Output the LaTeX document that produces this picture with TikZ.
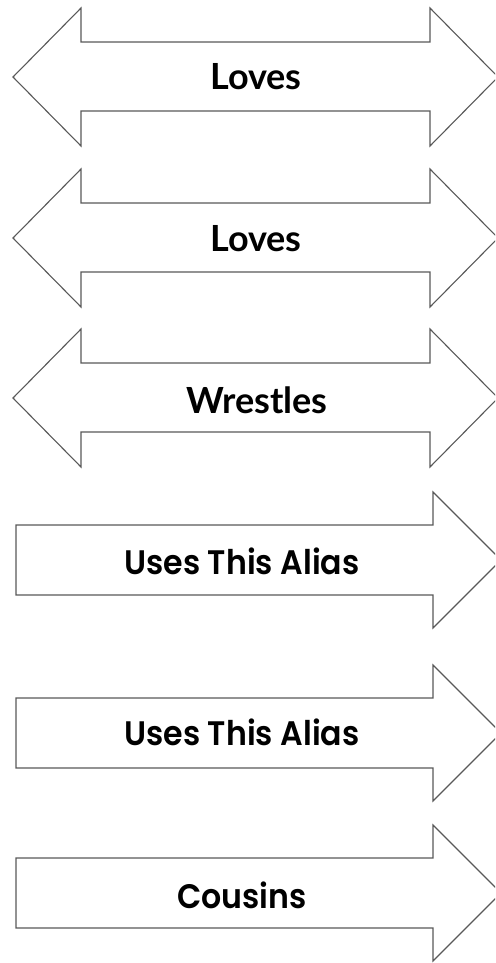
\documentclass[tikz,border=0pt]{standalone}
\usepackage{fontspec}
\newfontfamily\latofont{Lato}[UprightFont=* Bold]
\newfontfamily\popfont{Poppins}[UprightFont=* SemiBold, FakeStretch=0.93]
\begin{document}
\begin{tikzpicture}[x=1pt,y=-1pt,
  arrowline/.style={draw=black!65, line width=1.1pt, line join=miter, fill=white},
  lbl/.style={inner sep=0pt, text=black, anchor=base},
  latolbl/.style={lbl, font=\latofont\fontsize{36}{42}\selectfont},
  poplbl/.style={lbl, font=\popfont\fontsize{34}{38}\selectfont}]
\useasboundingbox (0,0) rectangle (495,963);
\clip (0,0) rectangle (495,963);
% double arrows
\foreach \c in {77, 238, 398}{
  \draw[arrowline] (13,\c) -- (81,\c-69) -- (81,\c-35) -- (430,\c-35) -- (430,\c-69)
     -- (498,\c) -- (430,\c+69) -- (430,\c+34) -- (81,\c+34) -- (81,\c+69) -- cycle;
}
% single arrows
\foreach \c in {560, 733, 893}{
  \draw[arrowline] (16,\c-35) -- (433,\c-35) -- (433,\c-68) -- (501,\c)
     -- (433,\c+68) -- (433,\c+35) -- (16,\c+35) -- cycle;
}
\node[latolbl] (t1) at (256,90) {Loves};
\node[latolbl] (t2) at (256,251) {Loves};
\node[latolbl] (t3) at (257,413) {Wrestles};
\node[poplbl] (t4) at (242,574) {Uses This Alias};
\node[poplbl] (t5) at (242,745) {Uses This Alias};
\node[poplbl] (t6) at (242,908) {Cousins};
\end{tikzpicture}
\end{document}
